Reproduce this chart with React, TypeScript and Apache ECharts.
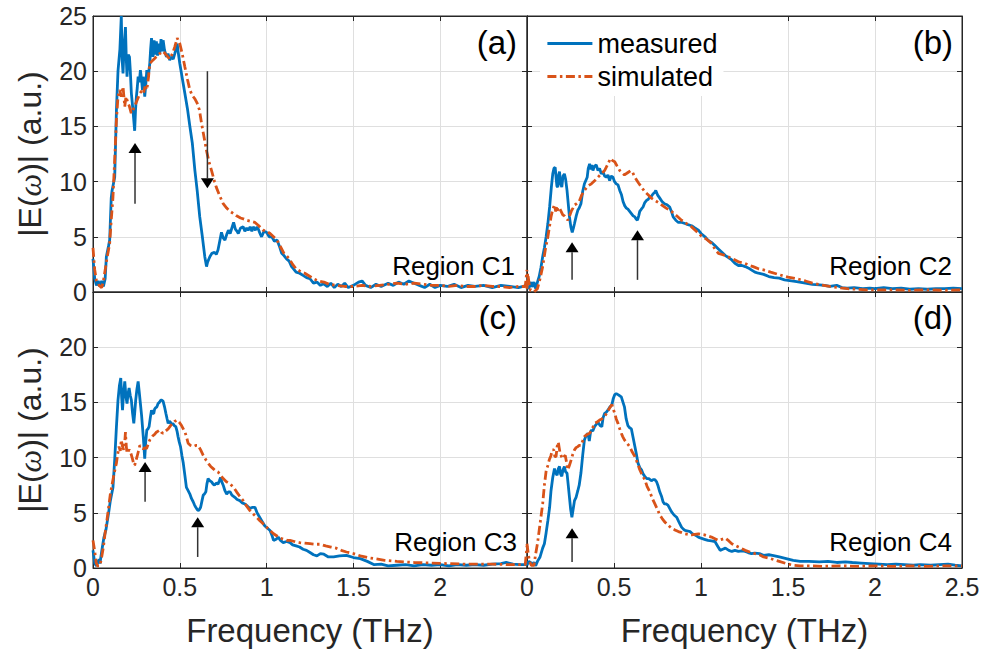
import React, { useEffect, useRef } from "react";
import * as echarts from "echarts";

const X_TICKS = [0, 0.5, 1, 1.5, 2, 2.5];
const Y_TICKS = [0, 5, 10, 15, 20, 25];
const SERIES_NAMES = ["measured", "simulated"];
const PANEL_LABELS = ["(a)", "(b)", "(c)", "(d)"];
const REGION_LABELS = ["Region C1", "Region C2", "Region C3", "Region C4"];
const X_NAME = "Frequency (THz)";

// Panel (a) – Region C1
const A_MEASURED: number[][] = [[0,3.0],[0.01,1.2],[0.02,0.6],[0.03,1.0],[0.04,0.5],[0.05,1.0],[0.06,0.5],[0.07,1.2],[0.077,3.2],[0.09,4.2],[0.096,4.7],[0.105,8.5],[0.11,9.2],[0.125,10.4],[0.135,16.5],[0.144,20],[0.155,22],[0.163,25],[0.168,21],[0.173,19.8],[0.18,22.5],[0.187,24],[0.192,21],[0.196,19.5],[0.203,21.5],[0.21,21.3],[0.215,20],[0.221,18],[0.23,16.5],[0.24,14.6],[0.245,16.5],[0.25,17.7],[0.255,18.5],[0.26,19.5],[0.267,19.0],[0.273,20.1],[0.28,19.2],[0.285,18.3],[0.29,19.5],[0.298,17.7],[0.305,19],[0.31,20.1],[0.318,19.5],[0.327,20.7],[0.332,22],[0.337,23],[0.342,22.2],[0.346,21.3],[0.352,22.8],[0.358,21.5],[0.365,22.7],[0.372,21.4],[0.378,22.5],[0.385,21.6],[0.392,22.9],[0.398,21.8],[0.404,22.8],[0.412,21.9],[0.423,21.3],[0.432,21.6],[0.442,21.0],[0.452,21.3],[0.462,21.1],[0.471,21.6],[0.478,22.0],[0.485,22.5],[0.49,21.8],[0.5,20.7],[0.515,19.3],[0.529,18],[0.545,16.5],[0.558,15],[0.572,13.5],[0.587,11],[0.6,9.2],[0.615,6.8],[0.63,5.0],[0.644,3.2],[0.654,2.3],[0.66,2.7],[0.673,3.2],[0.685,3.5],[0.7,3.6],[0.71,3.4],[0.72,3.8],[0.73,4.6],[0.74,5.4],[0.75,4.9],[0.76,4.7],[0.77,5.2],[0.78,5.6],[0.79,5.3],[0.8,5.8],[0.81,6.3],[0.82,5.7],[0.83,5.5],[0.837,5.3],[0.85,5.8],[0.865,5.9],[0.875,5.5],[0.885,5.8],[0.894,5.6],[0.905,5.9],[0.915,5.5],[0.923,5.9],[0.935,5.6],[0.945,5.9],[0.952,5.7],[0.962,5.3],[0.971,5.0],[0.985,5.5],[1.0,5.4],[1.015,5.0],[1.03,5.0],[1.045,4.6],[1.06,4.7],[1.075,4.1],[1.087,3.5],[1.1,3.3],[1.115,3.0],[1.13,2.8],[1.144,2.3],[1.155,2.1],[1.17,1.8],[1.19,1.7],[1.21,1.5],[1.23,1.3],[1.25,1.2],[1.27,0.8],[1.29,0.9],[1.31,0.6],[1.327,0.75],[1.35,0.5],[1.37,0.8],[1.39,0.4],[1.41,0.7],[1.43,0.5],[1.45,0.8],[1.47,0.4],[1.5,0.6],[1.53,0.9],[1.55,1.0],[1.57,0.6],[1.6,0.4],[1.63,0.7],[1.66,0.5],[1.7,0.8],[1.73,0.6],[1.76,0.9],[1.79,0.7],[1.82,1.0],[1.85,0.8],[1.88,0.6],[1.91,0.4],[1.94,0.7],[1.97,0.4],[2.0,0.6],[2.04,0.5],[2.08,0.7],[2.12,0.4],[2.16,0.6],[2.2,0.5],[2.25,0.6],[2.3,0.4],[2.35,0.6],[2.4,0.5],[2.45,0.4],[2.5,0.6]];
const A_SIMULATED: number[][] = [[0,4.0],[0.01,2.0],[0.02,1.0],[0.035,0.6],[0.05,0.4],[0.06,1.0],[0.07,2.0],[0.08,3.0],[0.096,4.4],[0.105,6.5],[0.115,8.6],[0.125,12],[0.135,15.6],[0.144,17.7],[0.154,18.3],[0.163,17.7],[0.173,18.6],[0.183,16.8],[0.19,17.7],[0.2,17.2],[0.21,16.8],[0.22,16.2],[0.23,16.5],[0.24,16.8],[0.25,17.2],[0.26,17.6],[0.27,18],[0.28,18.2],[0.29,18],[0.3,18.6],[0.31,18.3],[0.32,19.5],[0.327,20.7],[0.345,21.0],[0.365,21.3],[0.385,21.6],[0.404,21.8],[0.42,21.5],[0.442,21.1],[0.458,21.6],[0.471,22.2],[0.485,23],[0.5,22.5],[0.515,21.5],[0.529,20.4],[0.545,19.2],[0.558,18.3],[0.572,17.8],[0.587,17.5],[0.6,17.1],[0.613,16.5],[0.625,15.3],[0.64,14.0],[0.654,12.8],[0.668,11.8],[0.683,11.0],[0.7,10.0],[0.71,9.5],[0.73,8.7],[0.75,8.0],[0.77,7.6],[0.79,7.3],[0.81,7.1],[0.827,6.9],[0.85,6.7],[0.87,6.6],[0.885,6.5],[0.91,6.4],[0.933,6.3],[0.955,6.0],[0.98,5.6],[1.0,5.5],[1.02,5.3],[1.04,5.0],[1.06,4.7],[1.08,4.1],[1.1,3.5],[1.12,3.2],[1.135,2.9],[1.15,2.5],[1.17,2.1],[1.2,1.8],[1.22,1.7],[1.25,1.4],[1.27,1.2],[1.3,1.0],[1.33,0.9],[1.36,0.7],[1.4,0.6],[1.45,0.5],[1.5,0.5],[1.55,0.6],[1.6,0.5],[1.65,0.6],[1.7,0.7],[1.75,0.8],[1.8,0.7],[1.85,0.8],[1.9,0.7],[1.95,0.6],[2.0,0.6],[2.05,0.5],[2.1,0.6],[2.15,0.5],[2.2,0.5],[2.25,0.6],[2.3,0.5],[2.35,0.5],[2.4,0.4],[2.45,0.5],[2.49,0.5],[2.5,2.0]];
const A_ARROWS: number[][] = [[0.242, 8.0, 13.5], [0.659, 20, 9.4]];

// Panel (b) – Region C2
const B_MEASURED: number[][] = [[0,0.5],[0.01,0.3],[0.023,0.9],[0.03,0.45],[0.04,0.9],[0.05,0.3],[0.06,0.9],[0.07,1.4],[0.08,2.2],[0.09,3.2],[0.1,4.0],[0.11,5.0],[0.12,6.2],[0.13,7.7],[0.14,9.5],[0.148,10.7],[0.155,11.2],[0.162,11.3],[0.168,10.2],[0.172,9.6],[0.177,9.5],[0.182,10.6],[0.187,10.9],[0.193,9.8],[0.2,9.5],[0.207,10.5],[0.215,10.7],[0.222,10.2],[0.23,9.2],[0.237,8],[0.244,6.8],[0.252,5.9],[0.26,5.4],[0.267,5.8],[0.273,6.2],[0.283,6.9],[0.292,7.4],[0.3,7.6],[0.31,8.0],[0.32,9.1],[0.33,9.8],[0.338,10.1],[0.346,10.4],[0.352,11.2],[0.36,11.6],[0.368,11.1],[0.372,11.5],[0.379,11.0],[0.388,11.4],[0.398,11.5],[0.408,11.0],[0.417,11.2],[0.427,10.7],[0.437,10.9],[0.446,10.5],[0.456,10.4],[0.465,10.6],[0.475,10.1],[0.484,10.5],[0.494,10.4],[0.503,10.0],[0.513,9.8],[0.523,9.7],[0.533,9.2],[0.543,8.8],[0.552,8.2],[0.562,7.8],[0.571,7.6],[0.58,7.5],[0.59,7.3],[0.6,7.1],[0.61,6.9],[0.62,6.8],[0.628,6.6],[0.635,6.5],[0.642,6.9],[0.648,7.3],[0.657,7.5],[0.667,7.7],[0.677,8.1],[0.687,8.3],[0.697,8.4],[0.706,8.6],[0.716,8.7],[0.725,8.9],[0.733,9.0],[0.74,9.2],[0.75,8.8],[0.763,8.5],[0.776,8.2],[0.79,8.0],[0.805,7.9],[0.82,7.7],[0.83,7.3],[0.84,6.8],[0.855,6.5],[0.87,6.3],[0.89,6.3],[0.908,6.2],[0.925,6.1],[0.946,6.0],[0.965,5.8],[0.985,5.6],[1.0,5.3],[1.023,5.0],[1.04,4.7],[1.06,4.5],[1.08,4.2],[1.1,3.9],[1.12,3.6],[1.14,3.3],[1.16,3.1],[1.177,2.9],[1.195,2.6],[1.215,2.4],[1.235,2.4],[1.254,2.3],[1.28,2.1],[1.31,1.8],[1.33,1.7],[1.36,1.6],[1.39,1.4],[1.42,1.3],[1.45,1.25],[1.48,1.1],[1.52,1.0],[1.55,0.94],[1.6,0.8],[1.64,0.7],[1.68,0.65],[1.71,0.6],[1.74,0.5],[1.78,0.6],[1.81,0.4],[1.84,0.35],[1.88,0.4],[1.93,0.3],[1.97,0.35],[2.0,0.3],[2.05,0.4],[2.1,0.3],[2.15,0.35],[2.2,0.25],[2.25,0.3],[2.3,0.25],[2.35,0.3],[2.4,0.3],[2.45,0.35],[2.5,0.3]];
const B_SIMULATED: number[][] = [[0,0.3],[0.004,1.7],[0.012,0.8],[0.02,0.15],[0.04,0],[0.06,0.3],[0.075,1.2],[0.09,2.3],[0.105,3.8],[0.12,5.0],[0.13,6.0],[0.138,6.8],[0.148,7.5],[0.158,7.9],[0.165,7.3],[0.172,7.8],[0.177,7.4],[0.187,7.6],[0.196,7.3],[0.205,7.0],[0.215,6.9],[0.225,6.7],[0.235,6.5],[0.245,6.9],[0.254,7.3],[0.264,7.6],[0.273,7.9],[0.285,8.0],[0.3,8.2],[0.315,8.8],[0.33,9.2],[0.35,9.6],[0.37,9.8],[0.39,10.1],[0.408,10.4],[0.427,10.7],[0.446,11.0],[0.462,11.5],[0.48,12.1],[0.492,11.9],[0.504,11.8],[0.518,11.4],[0.533,11.0],[0.547,10.8],[0.56,10.6],[0.578,10.8],[0.596,11.0],[0.608,10.8],[0.62,10.4],[0.64,9.9],[0.658,9.5],[0.676,9.1],[0.696,8.8],[0.715,8.5],[0.735,8.3],[0.755,8.1],[0.773,7.9],[0.8,7.6],[0.83,7.3],[0.86,6.9],[0.888,6.5],[0.917,6.2],[0.946,5.9],[0.973,5.5],[1.0,5.1],[1.03,4.8],[1.06,4.4],[1.08,3.9],[1.1,3.5],[1.12,3.4],[1.14,3.3],[1.17,3.1],[1.196,2.9],[1.22,2.7],[1.25,2.6],[1.28,2.4],[1.3,2.3],[1.33,2.1],[1.36,2.0],[1.4,1.8],[1.45,1.56],[1.5,1.35],[1.55,1.2],[1.6,1.0],[1.64,0.8],[1.69,0.65],[1.74,0.5],[1.79,0.4],[1.84,0.3],[1.9,0.25],[1.95,0.2],[2.0,0.2],[2.1,0.2],[2.2,0.15],[2.3,0.2],[2.4,0.15],[2.5,0.2]];
const B_ARROWS: number[][] = [[0.259, 1.1, 4.5], [0.635, 1.1, 5.6]];

// Panel (c) – Region C3
const C_MEASURED: number[][] = [[0,1.6],[0.01,0.4],[0.02,0.2],[0.03,0.6],[0.035,0.8],[0.04,0.4],[0.05,1.5],[0.062,2.7],[0.075,3.5],[0.09,5],[0.1,6.1],[0.115,7.3],[0.125,9.8],[0.135,12.8],[0.144,15.2],[0.152,16.5],[0.16,17.2],[0.165,15.5],[0.17,14.3],[0.176,15.8],[0.183,16.9],[0.19,15.5],[0.196,14.9],[0.202,15.8],[0.208,16.3],[0.215,15.6],[0.221,15.2],[0.228,14],[0.235,13.1],[0.24,14],[0.246,15.2],[0.253,16.2],[0.26,16.9],[0.266,16],[0.273,14.9],[0.28,13.8],[0.285,12.8],[0.29,11.8],[0.298,9.9],[0.304,11.5],[0.31,12.5],[0.317,12.6],[0.323,12.8],[0.33,13.6],[0.337,14.3],[0.343,14.0],[0.35,14.0],[0.355,14.4],[0.36,14.5],[0.368,14.6],[0.375,14.9],[0.382,15.0],[0.39,15.2],[0.397,15.2],[0.404,15.1],[0.412,14.6],[0.42,14],[0.427,13.5],[0.433,13.1],[0.44,13.3],[0.446,13.2],[0.453,13.0],[0.46,13.1],[0.468,12.9],[0.477,12.8],[0.484,12.4],[0.49,11.9],[0.497,11.4],[0.504,11.0],[0.512,10.2],[0.52,9.5],[0.53,8.3],[0.538,7.3],[0.548,7.0],[0.558,6.7],[0.567,6.3],[0.577,6.0],[0.585,5.7],[0.592,5.5],[0.6,5.3],[0.606,5.2],[0.613,5.3],[0.62,5.5],[0.628,6.1],[0.635,6.6],[0.642,6.7],[0.65,6.9],[0.656,7.6],[0.663,8.1],[0.673,7.9],[0.683,7.8],[0.692,7.6],[0.7,7.5],[0.71,7.7],[0.72,7.6],[0.728,7.9],[0.735,8.2],[0.742,7.8],[0.75,7.5],[0.76,7.0],[0.77,6.7],[0.78,6.9],[0.79,6.9],[0.8,6.6],[0.817,6.4],[0.83,6.2],[0.846,6.1],[0.86,5.9],[0.875,5.8],[0.89,5.6],[0.904,5.4],[0.92,5.5],[0.933,5.5],[0.945,5.0],[0.96,4.6],[0.975,4.2],[0.99,3.8],[1.005,3.6],[1.02,3.4],[1.03,3.0],[1.04,2.5],[1.055,2.6],[1.067,2.8],[1.08,2.5],[1.096,2.3],[1.115,2.4],[1.135,2.3],[1.15,2.1],[1.17,2.0],[1.19,1.9],[1.21,1.7],[1.23,1.6],[1.25,1.4],[1.27,1.2],[1.29,1.1],[1.31,1.3],[1.33,1.25],[1.356,1.0],[1.386,1.0],[1.42,1.1],[1.46,1.15],[1.5,0.95],[1.54,0.85],[1.58,0.6],[1.62,0.3],[1.66,0.35],[1.7,0.2],[1.75,0.25],[1.8,0.3],[1.85,0.2],[1.9,0.3],[1.95,0.25],[2.0,0.3],[2.05,0.2],[2.1,0.3],[2.15,0.25],[2.2,0.3],[2.25,0.25],[2.3,0.35],[2.35,0.4],[2.38,0.5],[2.42,0.35],[2.46,0.3],[2.5,0.3]];
const C_SIMULATED: number[][] = [[0,2.5],[0.01,1.5],[0.018,0.5],[0.025,0.2],[0.04,0.2],[0.05,1.0],[0.06,1.9],[0.07,3.2],[0.08,4.3],[0.09,5.5],[0.1,6.7],[0.115,8.0],[0.125,8.8],[0.135,9.5],[0.142,10.3],[0.15,11],[0.157,10.6],[0.163,11.6],[0.17,11.0],[0.177,10.7],[0.183,11.4],[0.187,12.3],[0.192,11.0],[0.196,10.4],[0.203,10.6],[0.21,10.7],[0.22,10.3],[0.227,9.9],[0.235,9.4],[0.24,9.3],[0.247,9.7],[0.254,10.1],[0.262,10.6],[0.27,11.1],[0.28,10.9],[0.29,10.8],[0.3,10.9],[0.308,10.8],[0.318,11.2],[0.327,11.6],[0.336,11.8],[0.346,12.0],[0.355,12.1],[0.365,12.3],[0.375,12.4],[0.385,12.5],[0.394,12.3],[0.404,12.2],[0.418,12.4],[0.433,12.6],[0.447,12.9],[0.46,13.1],[0.472,13.3],[0.485,13.4],[0.497,13.2],[0.51,12.9],[0.52,12.6],[0.53,12.3],[0.54,11.8],[0.548,11.3],[0.562,11.1],[0.577,11.0],[0.592,11.1],[0.606,11.1],[0.62,10.7],[0.635,10.2],[0.65,9.8],[0.663,9.5],[0.678,9.2],[0.692,9.0],[0.706,8.8],[0.72,8.7],[0.735,8.4],[0.75,8.1],[0.77,7.8],[0.79,7.6],[0.81,7.3],[0.827,6.9],[0.845,6.5],[0.865,6.1],[0.885,5.6],[0.904,5.2],[0.923,4.9],[0.942,4.6],[0.96,4.3],[0.98,4.0],[1.0,3.7],[1.02,3.4],[1.04,3.1],[1.06,2.9],[1.08,2.7],[1.1,2.6],[1.12,2.5],[1.135,2.5],[1.16,2.4],[1.19,2.3],[1.22,2.25],[1.25,2.2],[1.28,2.15],[1.31,2.15],[1.34,2.0],[1.37,1.9],[1.4,1.8],[1.43,1.6],[1.46,1.45],[1.5,1.3],[1.54,1.1],[1.58,0.95],[1.62,0.85],[1.68,0.7],[1.75,0.6],[1.8,0.55],[1.85,0.5],[1.95,0.45],[2.04,0.4],[2.15,0.35],[2.3,0.35],[2.4,0.3],[2.49,0.3],[2.5,2.0]];
const C_ARROWS: number[][] = [[0.3, 6.0, 9.6], [0.603, 1.0, 4.6]];

// Panel (d) – Region C4
const D_MEASURED: number[][] = [[0,0.25],[0.01,0.6],[0.02,0.5],[0.03,0.3],[0.04,0.5],[0.05,0.2],[0.06,0.6],[0.075,1.0],[0.09,1.8],[0.1,2.2],[0.11,3.2],[0.12,4.3],[0.13,5.5],[0.138,7.0],[0.148,8.2],[0.158,9.0],[0.165,8.6],[0.173,8.4],[0.18,9.0],[0.187,9.2],[0.193,8.5],[0.2,8.3],[0.207,8.9],[0.215,9.2],[0.222,8.7],[0.23,8.6],[0.237,7.5],[0.244,6.4],[0.251,5.3],[0.258,4.6],[0.265,5.3],[0.273,6.1],[0.282,6.4],[0.292,7.0],[0.3,7.5],[0.31,8.6],[0.32,10.2],[0.33,11.6],[0.34,12.0],[0.35,12.2],[0.358,11.5],[0.365,12.3],[0.37,12.5],[0.378,12.4],[0.388,12.8],[0.398,13.0],[0.408,13.2],[0.42,12.9],[0.43,12.8],[0.437,13.6],[0.446,14.0],[0.455,14.1],[0.465,14.3],[0.477,14.6],[0.488,14.8],[0.495,15.3],[0.504,15.7],[0.513,15.8],[0.523,15.7],[0.533,15.6],[0.542,15.5],[0.55,15.1],[0.56,14.6],[0.57,13.5],[0.58,12.9],[0.59,12.7],[0.6,12.6],[0.61,11.8],[0.62,11.0],[0.63,10.2],[0.638,9.5],[0.648,9.1],[0.658,8.9],[0.668,8.5],[0.677,8.3],[0.688,8.1],[0.7,8.1],[0.715,7.9],[0.725,8.0],[0.735,8.0],[0.745,7.8],[0.754,7.4],[0.763,6.9],[0.773,6.5],[0.782,6.0],[0.79,5.8],[0.8,5.8],[0.81,5.7],[0.82,5.4],[0.83,5.1],[0.845,4.8],[0.86,4.6],[0.875,4.1],[0.888,3.7],[0.9,3.5],[0.908,3.4],[0.925,3.35],[0.937,3.3],[0.95,3.1],[0.965,3.0],[0.985,2.8],[1.0,2.7],[1.02,2.6],[1.04,2.5],[1.06,2.45],[1.08,2.4],[1.095,2.0],[1.11,1.6],[1.125,1.7],[1.14,1.8],[1.16,1.6],[1.177,1.5],[1.195,1.6],[1.215,1.5],[1.235,1.55],[1.254,1.5],[1.27,1.4],[1.29,1.3],[1.31,1.35],[1.336,1.3],[1.36,1.15],[1.39,1.2],[1.41,1.15],[1.45,1.0],[1.49,0.85],[1.53,0.7],[1.57,0.6],[1.62,0.6],[1.68,0.55],[1.73,0.6],[1.78,0.5],[1.83,0.55],[1.87,0.5],[1.92,0.45],[1.97,0.4],[2.02,0.35],[2.07,0.3],[2.12,0.35],[2.17,0.3],[2.22,0.25],[2.26,0.3],[2.32,0.25],[2.37,0.3],[2.42,0.35],[2.46,0.25],[2.5,0.2]];
const D_SIMULATED: number[][] = [[0,2.2],[0.008,1.2],[0.015,0.55],[0.025,0.25],[0.04,0.25],[0.05,1.3],[0.06,2.2],[0.07,3.4],[0.08,4.6],[0.09,5.8],[0.1,7.5],[0.11,8.8],[0.12,9.3],[0.128,9.8],[0.138,10.2],[0.145,10.7],[0.154,10.7],[0.16,10.1],[0.167,10.1],[0.173,11.0],[0.18,11.4],[0.185,10.9],[0.19,10.4],[0.198,10.1],[0.206,9.9],[0.213,10.1],[0.22,10.2],[0.228,9.5],[0.235,8.9],[0.244,9.3],[0.254,9.8],[0.263,10.3],[0.273,10.7],[0.282,10.9],[0.292,11.0],[0.3,11.1],[0.31,11.1],[0.32,11.5],[0.33,11.9],[0.345,12.1],[0.36,12.2],[0.375,12.6],[0.388,13.1],[0.4,13.2],[0.417,13.4],[0.43,13.5],[0.446,13.7],[0.46,14.1],[0.475,14.5],[0.488,14.8],[0.496,14.4],[0.504,14.0],[0.513,13.5],[0.523,13.1],[0.533,12.6],[0.542,12.2],[0.55,11.9],[0.56,11.6],[0.575,11.3],[0.59,11.0],[0.605,10.5],[0.62,10.1],[0.635,9.5],[0.648,8.9],[0.663,8.4],[0.677,8.0],[0.69,7.4],[0.706,6.9],[0.72,6.3],[0.735,5.8],[0.75,5.3],[0.763,4.8],[0.776,4.5],[0.79,4.2],[0.81,3.9],[0.83,3.6],[0.85,3.45],[0.87,3.3],[0.89,3.2],[0.908,3.1],[0.925,3.05],[0.946,3.0],[0.965,3.05],[0.985,3.1],[1.0,3.05],[1.02,3.0],[1.04,2.9],[1.06,2.8],[1.08,2.65],[1.1,2.5],[1.12,2.6],[1.14,2.7],[1.16,2.45],[1.177,2.2],[1.195,2.05],[1.215,1.9],[1.235,1.75],[1.254,1.6],[1.28,1.45],[1.31,1.3],[1.336,1.2],[1.36,1.0],[1.4,0.85],[1.45,0.6],[1.49,0.4],[1.53,0.25],[1.57,0.2],[1.62,0.2],[1.7,0.15],[1.8,0.2],[1.9,0.15],[2.0,0.2],[2.1,0.15],[2.2,0.2],[2.3,0.15],[2.4,0.2],[2.5,0.2]];
const D_ARROWS: number[][] = [[0.259, 0.55, 3.6]];

const MEASURED = [A_MEASURED, B_MEASURED, C_MEASURED, D_MEASURED];
const SIMULATED = [A_SIMULATED, B_SIMULATED, C_SIMULATED, D_SIMULATED];
const ARROWS = [A_ARROWS, B_ARROWS, C_ARROWS, D_ARROWS];

const FONT = "'Liberation Sans', Arial, Helvetica, sans-serif";
const AXIS_COLOR = "#262626";
const GRID_COLOR = "#dfdfdf";
const BLUE = "#0072BD";
const ORANGE = "#D95319";

const GRIDS = [
  { left: 93, top: 16, width: 434, height: 276 },
  { left: 527, top: 16, width: 435, height: 276 },
  { left: 93, top: 292, width: 434, height: 276 },
  { left: 527, top: 292, width: 435, height: 276 },
];
const PANEL_LABEL_POS = [[517, 42], [953, 42], [517, 317], [953, 317]];
const REGION_LABEL_POS = [[515, 266], [952, 266], [517, 542], [952, 542]];

function buildOption() {
  const xMin = X_TICKS[0];
  const xMax = X_TICKS[X_TICKS.length - 1];
  const xInt = X_TICKS[1] - X_TICKS[0];
  const yMin = Y_TICKS[0];
  const yMax = Y_TICKS[Y_TICKS.length - 1];
  const yInt = Y_TICKS[1] - Y_TICKS[0];

  const xAxis: any[] = [];
  const yAxis: any[] = [];
  const tick = { show: true, inside: true, length: 5, lineStyle: { color: AXIS_COLOR, width: 1 } };
  const line = { show: true, onZero: false, lineStyle: { color: AXIS_COLOR, width: 1 } };
  for (let i = 0; i < 4; i++) {
    xAxis.push({
      type: "value", gridIndex: i, min: xMin, max: xMax, interval: xInt,
      axisLine: line, axisTick: tick,
      axisLabel: {
        show: i >= 2, showMinLabel: true, showMaxLabel: i === 3,
        fontSize: 25, color: AXIS_COLOR, fontFamily: FONT, margin: 6,
      },
      splitLine: { show: true, lineStyle: { color: GRID_COLOR, width: 1 } },
      name: i >= 2 ? X_NAME : "", nameLocation: "middle", nameGap: 46,
      nameTextStyle: { fontSize: 33, color: AXIS_COLOR, fontFamily: FONT },
    });
    yAxis.push({
      type: "value", gridIndex: i, min: yMin, max: yMax, interval: yInt,
      axisLine: line, axisTick: tick,
      axisLabel: {
        show: i % 2 === 0, showMinLabel: true, showMaxLabel: i === 0,
        fontSize: 25, color: AXIS_COLOR, fontFamily: FONT, margin: 6,
      },
      splitLine: { show: true, lineStyle: { color: GRID_COLOR, width: 1 } },
      name: i % 2 === 0 ? "|E({w|ω})| (a.u.)" : "", nameLocation: "middle", nameGap: 47, nameRotate: 90,
      nameTextStyle: {
        fontSize: 32, color: AXIS_COLOR, fontFamily: FONT,
        rich: { w: { fontSize: 32, fontStyle: "italic", fontFamily: "'Liberation Serif', serif", color: AXIS_COLOR } },
      },
    });
  }
  for (let i = 0; i < 4; i++) {
    xAxis.push({
      type: "value", gridIndex: i, position: "top", min: xMin, max: xMax, interval: xInt,
      axisLine: line, axisTick: tick, axisLabel: { show: false }, splitLine: { show: false },
    });
    yAxis.push({
      type: "value", gridIndex: i, position: "right", min: yMin, max: yMax, interval: yInt,
      axisLine: line, axisTick: tick, axisLabel: { show: false }, splitLine: { show: false },
    });
  }

  const series: any[] = [];
  for (let i = 0; i < 4; i++) {
    series.push({
      type: "line", name: SERIES_NAMES[0], xAxisIndex: i, yAxisIndex: i,
      data: MEASURED[i], symbol: "none", showSymbol: false,
      lineStyle: { color: BLUE, width: 2.8 }, itemStyle: { color: BLUE }, z: 3,
    });
    series.push({
      type: "line", name: SERIES_NAMES[1], xAxisIndex: i, yAxisIndex: i,
      data: SIMULATED[i], symbol: "none", showSymbol: false,
      lineStyle: { color: ORANGE, width: 2.8, type: [9, 3.5, 2.5, 3.5] }, itemStyle: { color: ORANGE }, z: 4,
    });
    series.push({
      type: "custom", xAxisIndex: i, yAxisIndex: i, data: ARROWS[i], z: 6,
      encode: { x: 0, y: [1, 2] },
      renderItem: (params: any, api: any) => {
        const x = api.value(0);
        const p0 = api.coord([x, api.value(1)]);
        const p1 = api.coord([x, api.value(2)]);
        const dir = p1[1] < p0[1] ? -1 : 1;
        const hl = 10;
        const hw = 6.5;
        return {
          type: "group",
          children: [
            { type: "line", shape: { x1: p0[0], y1: p0[1], x2: p1[0], y2: p1[1] - dir * hl }, style: { stroke: "#333", lineWidth: 1.5 } },
            { type: "polygon", shape: { points: [[p1[0], p1[1]], [p1[0] - hw, p1[1] - dir * hl], [p1[0] + hw, p1[1] - dir * hl]] }, style: { fill: "#000" } },
          ],
        };
      },
    });
  }

  const graphic: any[] = [];
  for (let i = 0; i < 4; i++) {
    graphic.push({
      type: "text", x: PANEL_LABEL_POS[i][0], y: PANEL_LABEL_POS[i][1], z: 10,
      style: { text: PANEL_LABELS[i], fontSize: 33, fontFamily: FONT, fill: "#000", align: "right", verticalAlign: "middle" },
    });
    graphic.push({
      type: "text", x: REGION_LABEL_POS[i][0], y: REGION_LABEL_POS[i][1], z: 10,
      style: { text: REGION_LABELS[i], fontSize: 26, fontFamily: FONT, fill: "#000", align: "right", verticalAlign: "middle" },
    });
  }

  return {
    animation: false,
    backgroundColor: "#fff",
    grid: GRIDS.map((g) => ({ ...g, show: true, borderColor: AXIS_COLOR, borderWidth: 1, backgroundColor: "transparent", containLabel: false })),
    xAxis, yAxis, series, graphic,
    legend: {
      show: true, data: SERIES_NAMES, orient: "vertical", left: 540, top: 17,
      padding: [10, 6, 3, 6], itemGap: 0, itemWidth: 45, itemHeight: 14,
      backgroundColor: "#fff", selectedMode: false, z: 8,
      itemStyle: { opacity: 0 },
      lineStyle: { width: 2.8 },
      textStyle: { fontSize: 27, color: "#000", fontFamily: FONT, lineHeight: 33 },
    },
  };
}

export default function App() {
  const ref = useRef<HTMLDivElement>(null);
  useEffect(() => {
    if (!ref.current) return;
    const chart = echarts.init(ref.current, undefined, { renderer: "svg" });
    chart.setOption(buildOption() as any);
    return () => chart.dispose();
  }, []);
  return <div ref={ref} style={{ position: "fixed", left: 0, top: 0, width: 986, height: 655, background: "#fff" }} />;
}
